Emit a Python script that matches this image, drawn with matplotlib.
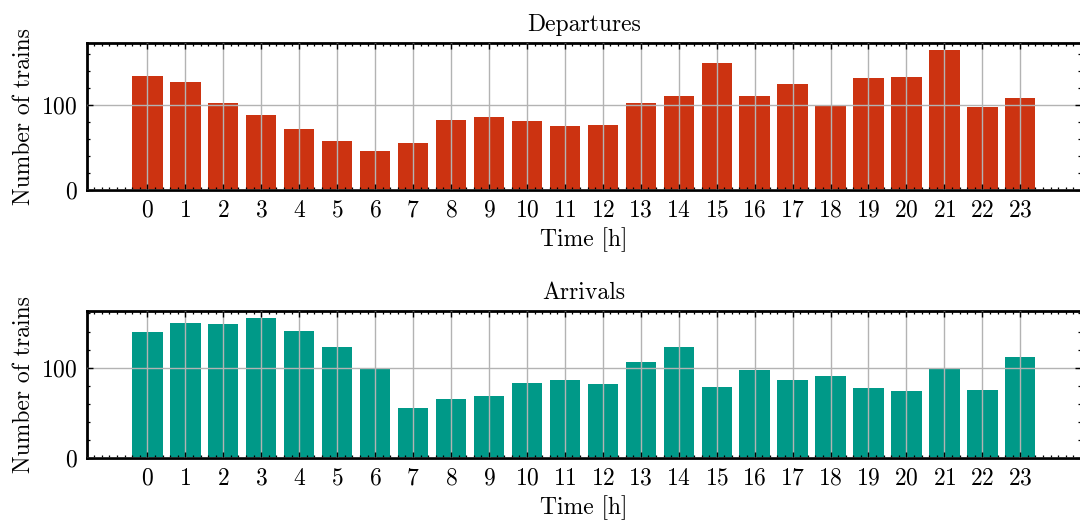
import matplotlib
matplotlib.use('Agg')
import matplotlib.pyplot as plt
import numpy as np

hours = list(range(24))
departures = [134, 127, 103, 88, 72, 58, 46, 55, 82, 86, 81, 76,
              77, 102, 111, 150, 111, 125, 99, 132, 133, 165, 98, 108]
arrivals = [139, 149, 148, 155, 141, 123, 99, 55, 65, 69, 83, 86,
            82, 106, 123, 79, 97, 86, 91, 77, 74, 99, 75, 112]

plt.rcParams.update({
    'font.family': 'serif',
    'font.serif': ['cmr10'],
    'mathtext.fontset': 'cm',
    'axes.formatter.use_mathtext': True,
    'font.size': 17,
    'axes.titlesize': 17,
    'axes.labelsize': 17,
    'xtick.labelsize': 17,
    'ytick.labelsize': 17,
    'axes.linewidth': 2.0,
    'xtick.direction': 'in',
    'ytick.direction': 'in',
    'xtick.top': True,
    'ytick.right': True,
    'xtick.minor.visible': True,
    'ytick.minor.visible': True,
    'xtick.major.size': 4.5,
    'ytick.major.size': 4.5,
    'xtick.minor.size': 2.2,
    'ytick.minor.size': 2.2,
    'xtick.major.width': 1.0,
    'ytick.major.width': 1.0,
    'xtick.minor.width': 0.9,
    'ytick.minor.width': 0.9,
    'xtick.major.pad': 7,
    'ytick.major.pad': 7,
})

def plot_panel(ax, values, color, title):
    ax.bar(hours, values, width=0.8, color=color)
    ax.set_xticks(hours)
    ax.grid(True, which='major', color='#b3b3b3', linewidth=1.0)
    ax.set_axisbelow(False)
    ax.set_title(title, pad=9)
    ax.set_xlabel('Time [h]', labelpad=4)
    ax.set_ylabel('Number of trains', labelpad=4)

fig = plt.figure(figsize=(10.8, 5.22), dpi=100)
ax1 = fig.add_axes([0.0806, 0.636, 0.920, 0.2816])
ax2 = fig.add_axes([0.0806, 0.1226, 0.920, 0.2816])
plot_panel(ax1, departures, '#CC3311', 'Departures')
plot_panel(ax2, arrivals, '#009988', 'Arrivals')
fig.savefig('out.png', dpi=100)
